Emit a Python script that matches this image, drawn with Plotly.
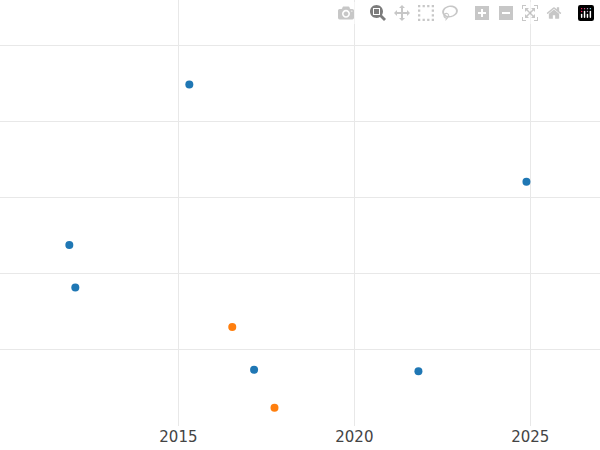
import plotly.graph_objects as go

years_blue = [2015.31, 2024.89, 2011.90, 2012.07, 2017.15, 2021.82]
values_blue = [4.49, 3.21, 2.38, 1.82, 0.74, 0.72]
years_orange = [2016.53, 2017.73]
values_orange = [1.30, 0.24]

fig = go.Figure()
fig.add_scatter(x=years_blue, y=values_blue, mode="markers",
                marker=dict(color="#1f77b4", size=8), showlegend=False)
fig.add_scatter(x=years_orange, y=values_orange, mode="markers",
                marker=dict(color="#ff7f0e", size=8), showlegend=False)

fig.update_layout(
    width=600, height=450, plot_bgcolor="white", paper_bgcolor="white",
    margin=dict(l=0, r=0, t=0, b=24),
    font=dict(family="DejaVu Sans", size=15, color="#444"),
)
fig.update_xaxes(range=[2009.93, 2026.98], tickvals=[2015, 2020, 2025],
                 showgrid=True, gridcolor="#e8e8e8", zeroline=False, ticks="")
fig.update_yaxes(range=[0, 5.6], dtick=1, showticklabels=False,
                 showgrid=True, gridcolor="#e8e8e8", zeroline=False)

fig.write_html("out.html", post_script="document.body.style.margin='0';")
